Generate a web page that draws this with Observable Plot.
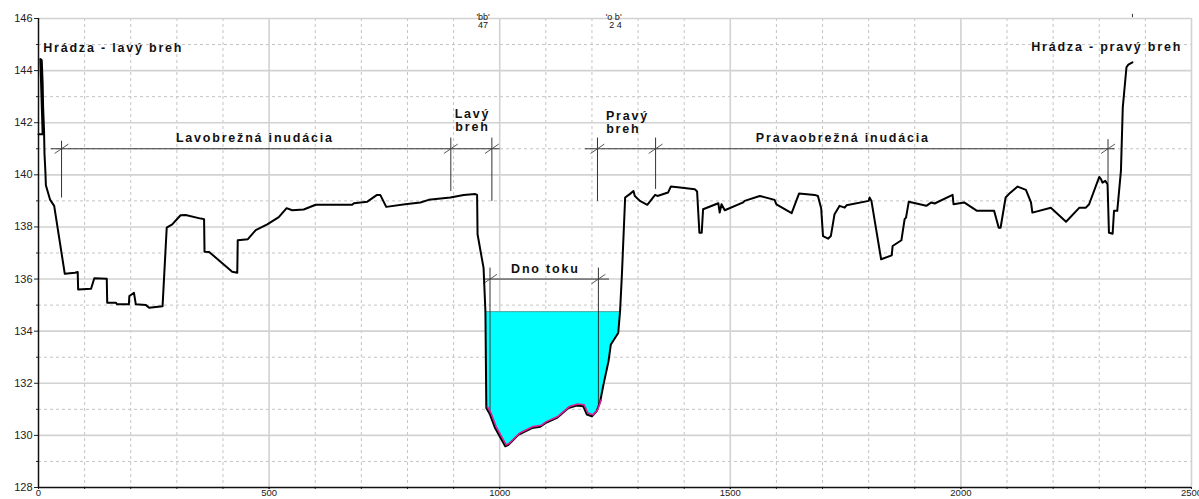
<!DOCTYPE html>
<html>
<head>
<meta charset="utf-8">
<script src="https://cdn.jsdelivr.net/npm/d3@7"></script>
<script src="https://cdn.jsdelivr.net/npm/@observablehq/plot@0.6"></script>
<style>
  html, body { margin: 0; padding: 0; background: #fff; }
</style>
</head>
<body>
<div id="chart"></div>
<script>
// ---- Axis ticks ----
const xTicks = [0, 500, 1000, 1500, 2000, 2500];
const yTicks = [128, 130, 132, 134, 136, 138, 140, 142, 144, 146];

// ---- Cross-section profile (station m, elevation m) ----
const stations = [0, 9, 4, 7, 9, 10, 12, 13, 15, 16, 25, 34, 57, 79, 85, 86, 114, 121, 148, 149, 168, 170, 196, 197, 207, 211, 233, 240, 269, 278, 290, 308, 319, 352, 359, 360, 370, 420, 431, 432, 454, 471, 496, 521, 538, 550, 575, 601, 680, 684, 713, 734, 741, 754, 795, 828, 846, 893, 922, 947, 951, 952, 961, 965, 969, 971, 979, 990, 1012, 1019, 1041, 1048, 1070, 1088, 1099, 1124, 1149, 1167, 1181, 1189, 1200, 1210, 1218, 1225, 1236, 1241, 1257, 1261, 1265, 1272, 1282, 1290, 1293, 1304, 1320, 1337, 1342, 1365, 1371, 1391, 1423, 1428, 1433, 1438, 1441, 1474, 1477, 1481, 1488, 1528, 1531, 1564, 1596, 1600, 1633, 1649, 1683, 1690, 1697, 1701, 1712, 1718, 1726, 1737, 1748, 1752, 1800, 1802, 1806, 1827, 1850, 1852, 1871, 1878, 1881, 1887, 1925, 1936, 1943, 1982, 1984, 2007, 2035, 2072, 2082, 2086, 2097, 2104, 2123, 2141, 2152, 2155, 2195, 2228, 2257, 2271, 2278, 2300, 2304, 2307, 2313, 2318, 2321, 2329, 2332, 2339, 2347, 2351, 2359, 2363, 2372];
const elevations = [141.56, 141.56, 144.45, 144.4, 143.5, 142.6, 141.7, 140.8, 140.1, 139.6, 139.05, 138.81, 136.2, 136.24, 136.27, 135.6, 135.63, 136.03, 136.01, 135.09, 135.09, 135.03, 135.03, 135.35, 135.47, 135.03, 135.0, 134.9, 134.96, 137.97, 138.1, 138.45, 138.46, 138.32, 138.3, 137.05, 137.04, 136.28, 136.24, 137.49, 137.53, 137.88, 138.1, 138.38, 138.72, 138.64, 138.67, 138.85, 138.85, 138.91, 138.97, 139.23, 139.23, 138.77, 138.87, 138.94, 139.04, 139.13, 139.23, 139.26, 139.23, 137.72, 136.82, 136.43, 134.77, 131.05, 130.8, 130.28, 129.58, 129.64, 130.03, 130.09, 130.28, 130.33, 130.47, 130.67, 131.05, 131.15, 131.12, 130.8, 130.73, 130.92, 131.31, 131.95, 132.85, 133.49, 133.93, 134.77, 136.18, 139.13, 139.26, 139.38, 139.19, 139.0, 138.85, 139.23, 139.19, 139.32, 139.55, 139.51, 139.45, 139.36, 137.78, 137.78, 138.68, 138.91, 138.55, 138.87, 138.64, 138.94, 139.0, 139.19, 139.04, 138.87, 138.53, 139.28, 139.23, 139.19, 138.72, 137.65, 137.55, 137.65, 138.49, 138.81, 138.74, 138.83, 139.0, 139.13, 139.0, 136.76, 136.91, 137.27, 137.49, 138.3, 138.36, 138.97, 138.81, 138.94, 138.9, 139.23, 138.87, 138.94, 138.62, 138.62, 137.97, 137.97, 139.13, 139.26, 139.55, 139.42, 138.94, 138.55, 138.74, 138.2, 138.74, 138.74, 138.87, 139.92, 139.83, 139.7, 139.77, 139.64, 137.78, 137.74, 138.62, 138.62, 140.15, 142.59, 144.13, 144.23, 144.32];

// ---- Water ----
const waterLevel = 134.75;
const waterFrom = 969, waterTo = 1261;
const wettedFrom = 971, wettedTo = 1218;

// ---- Dimension annotations ----
const dimLineX1 = [27, 1185, 966];
const dimLineX2 = [1000, 2333, 1237];
const dimLineY = [141.0, 141.0, 136.0];

const leaderX = [50, 894, 983, 1212, 1338, 2319, 979, 1214];
const leaderTop = [141.31, 141.43, 141.43, 141.43, 141.43, 141.37, 136.44, 136.44];
const leaderBottom = [139.13, 139.38, 139.0, 139.0, 139.46, 139.67, 130.92, 131.19];
const leaderLineY = [141.0, 141.0, 141.0, 141.0, 141.0, 141.0, 136.0, 136.0];

const labelText = ["Hrádza - lavý breh", "Hrádza - pravý breh", "Lavobrežná inudácia", "Lavý", "breh", "Pravý", "breh", "Pravaobrežná inudácia", "Dno toku"];
const labelX = [162, 2316, 469, 941, 941, 1277, 1268, 1744, 1099];
const labelY = [144.85, 144.9, 141.4, 142.35, 141.82, 142.27, 141.74, 141.4, 136.4];

const topLabelText = ["'bb'", "47", "'o b'", "2 4"];
const topLabelX = [964, 964, 1247, 1251];
const topLabelY = [146.07, 145.73, 146.07, 145.73];

const endMarkX = [2372];

// ---- Derived tables ----
const profile = stations.map((s, i) => ({s, z: elevations[i]}));
const water = profile.filter(d => d.s >= waterFrom && d.s <= waterTo);
const wetted = profile.filter(d => d.s >= wettedFrom && d.s <= wettedTo);
const dims = dimLineY.map((y, i) => ({x1: dimLineX1[i], x2: dimLineX2[i], y}));
const leaders = leaderX.map((x, i) => ({x, y1: leaderTop[i], y2: leaderBottom[i], yl: leaderLineY[i]}));
const labels = labelText.map((t, i) => ({t, x: labelX[i], y: labelY[i]}));
const topLabels = topLabelText.map((t, i) => ({t, x: topLabelX[i], y: topLabelY[i]}));

const minorX = d3.range(100, 2500, 100).filter(v => v % 500 !== 0);
const majorGridX = xTicks.filter(v => v !== 0);
const minorY = d3.range(129, 146, 2);
const majorGridY = yTicks.filter(v => v !== 128);
const xMinorTicks = d3.range(0, 2501, 100);
const yMinorTicks = d3.range(129, 146, 2);

const gridSolid = "#d2d2d2";
const gridDash = "#c4c4c4";

const chart = Plot.plot({
  width: 1199,
  height: 499,
  marginLeft: 38,
  marginRight: 8,
  marginTop: 18,
  marginBottom: 12,
  style: {background: "white", fontFamily: "'Liberation Sans', Arial, sans-serif", fontSize: "10px", color: "#222", overflow: "visible"},
  x: {domain: [0, 2500], axis: null},
  y: {domain: [128, 146], axis: null},
  marks: [
    // grid
    Plot.ruleX(minorX, {stroke: gridDash, strokeWidth: 1, strokeDasharray: "3,3"}),
    Plot.ruleY(minorY, {stroke: gridDash, strokeWidth: 1, strokeDasharray: "3,3"}),
    Plot.ruleX(majorGridX, {stroke: gridSolid, strokeWidth: 1.6}),
    Plot.ruleY(majorGridY, {stroke: gridSolid, strokeWidth: 1.6}),
    // axes
    Plot.axisX(xMinorTicks, {tickSize: 2, tickFormat: () => "", stroke: "#222"}),
    Plot.axisX(xTicks, {tickSize: 2, tickPadding: 0, fontSize: 9.5, fill: "#222", tickFormat: d => String(d)}),
    Plot.axisY(yMinorTicks, {tickSize: 2, tickFormat: () => "", stroke: "#222"}),
    Plot.axisY(yTicks, {tickSize: 4, tickPadding: 2, fontSize: 11, fill: "#222", tickFormat: d => String(d)}),
    Plot.ruleX([0], {stroke: "#111", strokeWidth: 1.5}),
    Plot.ruleY([128], {stroke: "#111", strokeWidth: 1.5}),
    // water
    Plot.areaY(water, {x: "s", y1: "z", y2: waterLevel, fill: "#00ffff", curve: "linear"}),
    Plot.ruleY([waterLevel], {x1: waterFrom, x2: waterTo, stroke: "#6a8a8a", strokeWidth: 0.8}),
    // dimension lines
    Plot.link(dims, {x1: "x1", x2: "x2", y1: "y", y2: "y", stroke: "#333", strokeWidth: 1}),
    Plot.link(leaders, {x1: "x", x2: "x", y1: "y1", y2: "y2", stroke: "#333", strokeWidth: 1}),
    Plot.link(leaders, {x1: d => d.x - 15, x2: d => d.x + 15, y1: d => d.yl - 0.18, y2: d => d.yl + 0.18, stroke: "#444", strokeWidth: 0.9}),
    // profile
    Plot.line(profile, {x: "s", y: "z", stroke: "#000", strokeWidth: 2, strokeLinejoin: "round"}),
    Plot.line(wetted, {x: "s", y: "z", stroke: "#dd1f95", strokeWidth: 1.6, dy: -1.5, dx: 1}),
    // end marker above frame
    Plot.ruleX(endMarkX, {y1: 146.03, y2: 146.16, stroke: "#333", strokeWidth: 1}),
    // labels
    Plot.text(labels, {x: "x", y: "y", text: "t", fontSize: 12.5, fontWeight: "bold", fill: "#111", textAnchor: "middle"}),
    Plot.text(topLabels, {x: "x", y: "y", text: "t", fontSize: 9, fill: "#111", textAnchor: "middle"})
  ]
});

d3.select(chart).selectAll('g[aria-label="text"][font-weight="bold"]').attr("letter-spacing", "1.8px");
document.getElementById("chart").appendChild(chart);
</script>
</body>
</html>
